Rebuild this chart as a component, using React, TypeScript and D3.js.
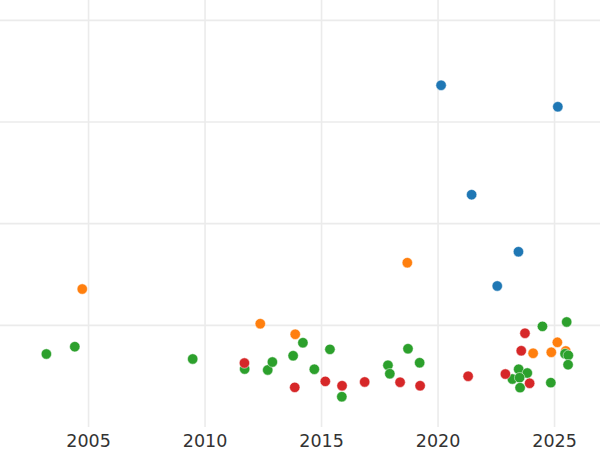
import React from "react";
import * as d3 from "d3";

const blueYears = [2020.13, 2025.14, 2021.44, 2023.45, 2022.54];
const blueValues = [3.361, 3.15, 2.285, 1.724, 1.387];

const orangeYears = [2004.73, 2012.37, 2013.87, 2018.68, 2024.08, 2024.86, 2025.12, 2025.48];
const orangeValues = [1.357, 1.016, 0.912, 1.616, 0.725, 0.735, 0.833, 0.748];

const greenYears = [
  2003.19, 2004.41, 2009.47, 2011.7, 2012.69, 2012.89, 2013.78, 2014.2, 2014.69, 2015.36,
  2015.87, 2017.85, 2017.93, 2018.71, 2019.21, 2023.46, 2023.83, 2023.19, 2023.5, 2023.52,
  2024.48, 2024.84, 2025.52, 2025.45, 2025.59, 2025.58,
];
const greenValues = [
  0.718, 0.79, 0.669, 0.57, 0.561, 0.639, 0.701, 0.829, 0.568, 0.764,
  0.298, 0.607, 0.524, 0.77, 0.632, 0.568, 0.531, 0.472, 0.485, 0.387,
  0.99, 0.436, 1.033, 0.721, 0.705, 0.613,
];

const redYears = [
  2011.69, 2013.85, 2015.16, 2015.88, 2016.85, 2018.37, 2019.23, 2021.29, 2022.89, 2023.57,
  2023.73, 2023.93,
];
const redValues = [
  0.629, 0.39, 0.449, 0.406, 0.443, 0.44, 0.406, 0.499, 0.521, 0.75,
  0.922, 0.43,
];

const xTicks = [2005, 2010, 2015, 2020, 2025];
const yTicks = [1, 2, 3, 4];

const series = [
  { name: "blue", color: "#1f77b4", xs: blueYears, ys: blueValues },
  { name: "orange", color: "#ff7f0e", xs: orangeYears, ys: orangeValues },
  { name: "green", color: "#2ca02c", xs: greenYears, ys: greenValues },
  { name: "red", color: "#d62728", xs: redYears, ys: redValues },
];

export default function App() {
  const width = 600;
  const height = 450;
  const plotBottom = 427;
  const x = d3.scaleLinear().domain([2001.2, 2026.95]).range([0, width]);
  const y = d3.scaleLinear().domain([0, 4.2]).range([plotBottom, 0]);

  return (
    <svg
      width={width}
      height={height}
      style={{ position: "absolute", left: 0, top: 0, background: "#fff" }}
      fontFamily="DejaVu Sans, sans-serif"
    >
      <rect x={0} y={0} width={width} height={height} fill="#fff" />
      <g>
        {xTicks.map((t) => (
          <line
            key={"vx" + t}
            x1={x(t)}
            x2={x(t)}
            y1={0}
            y2={plotBottom}
            stroke="#ebebeb"
            strokeWidth={1.6}
          />
        ))}
        {yTicks.map((t) => (
          <line
            key={"hy" + t}
            x1={0}
            x2={width}
            y1={y(t)}
            y2={y(t)}
            stroke="#ebebeb"
            strokeWidth={1.6}
          />
        ))}
      </g>
      <g>
        {series.map((s) =>
          s.xs.map((xv, i) => (
            <circle
              key={s.name + i}
              cx={x(xv)}
              cy={y(s.ys[i])}
              r={5.2}
              fill={s.color}
              stroke="#fff"
              strokeWidth={0.5}
            />
          ))
        )}
      </g>
      <g>
        {xTicks.map((t) => (
          <text
            key={"tx" + t}
            x={x(t)}
            y={447}
            textAnchor="middle"
            fontSize={17.5}
            fill="#333"
          >
            {t}
          </text>
        ))}
      </g>
    </svg>
  );
}
